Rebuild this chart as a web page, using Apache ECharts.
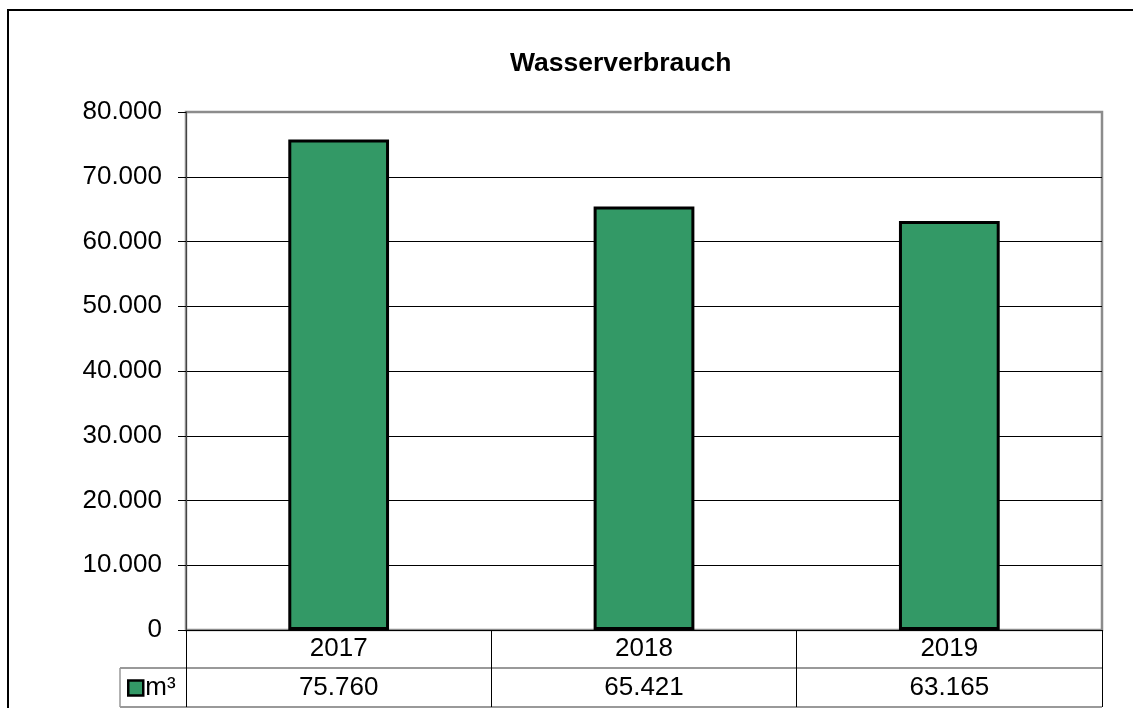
<!DOCTYPE html>
<html>
<head>
<meta charset="utf-8">
<script src="https://cdn.jsdelivr.net/npm/echarts@6/dist/echarts.min.js"></script>
<style>
  html, body { margin: 0; padding: 0; background: #fff; }
  #chart { width: 1133px; height: 708px; }
</style>
</head>
<body>
<div id="chart"></div>
<script>
// Daten
var years = ["2017", "2018", "2019"];
var waterM3 = [75760, 65421, 63165];
var seriesName = "m³";

// Tausenderpunkt wie im Original
function fmt(v) {
  return String(v).replace(/\B(?=(\d{3})+(?!\d))/g, ".");
}

var font = "'Liberation Sans', Arial, sans-serif";
var chart = echarts.init(document.getElementById("chart"));

var option = {
  backgroundColor: "#fff",
  animation: false,
  title: {
    text: "Wasserverbrauch",
    left: 510,
    top: 50,
    padding: 0,
    textStyle: { fontFamily: font, fontSize: 26.5, fontWeight: "bold", color: "#000" }
  },
  legend: {
    data: [seriesName],
    left: 127,
    top: 675,
    padding: 0,
    icon: "rect",
    itemWidth: 15,
    itemHeight: 15,
    selectedMode: false,
    itemStyle: { borderColor: "#000", borderWidth: 2.5 },
    textStyle: { fontFamily: font, fontSize: 26, color: "#000", padding: [0, 0, 0, -3] }
  },
  grid: {
    left: 186,
    right: 31,
    top: 112,
    bottom: 78,
    show: true,
    borderColor: "#8c8c8c",
    borderWidth: 2.5
  },
  xAxis: [
    {
      type: "category",
      data: years,
      position: "bottom",
      axisLine: { lineStyle: { color: "#000", width: 1 } },
      axisTick: { show: true, length: 77, lineStyle: { color: "#000", width: 1 } },
      axisLabel: { fontFamily: font, fontSize: 26, color: "#000", margin: 0, lineHeight: 38 }
    },
    {
      type: "category",
      data: waterM3.map(fmt),
      position: "bottom",
      offset: 38,
      axisLine: { show: true, lineStyle: { color: "#999", width: 2 } },
      axisTick: { show: false },
      axisLabel: { fontFamily: font, fontSize: 26, color: "#000", margin: 0, lineHeight: 39 }
    }
  ],
  yAxis: {
    type: "value",
    min: 0,
    max: 80000,
    interval: 10000,
    axisLine: { show: true, lineStyle: { color: "#444", width: 1 } },
    axisTick: { show: true, length: 8, lineStyle: { color: "#000" } },
    splitLine: { showMaxLine: false, lineStyle: { color: "#000", width: 1 } },
    axisLabel: {
      fontFamily: font,
      fontSize: 26,
      color: "#000",
      margin: 24,
      formatter: function (v) { return fmt(v); }
    }
  },
  series: [
    {
      name: seriesName,
      type: "bar",
      data: waterM3,
      barWidth: "33%",
      itemStyle: { color: "#339966", borderColor: "#000", borderWidth: 3 }
    }
  ],
  graphic: [
    // Rahmen des Diagramms
    { type: "rect", shape: { x: 8, y: 10, width: 1200, height: 800 },
      style: { fill: "none", stroke: "#000", lineWidth: 2 }, silent: true },
    // Datentabelle: Kopfzelle und untere Linie
    { type: "line", shape: { x1: 120, y1: 668, x2: 186, y2: 668 },
      style: { stroke: "#999", lineWidth: 2 }, silent: true },
    { type: "line", shape: { x1: 120, y1: 707, x2: 1102, y2: 707 },
      style: { stroke: "#999", lineWidth: 2 }, silent: true },
    { type: "line", shape: { x1: 120, y1: 668, x2: 120, y2: 707 },
      style: { stroke: "#999", lineWidth: 1.5 }, silent: true }
  ]
};

chart.setOption(option);
</script>
</body>
</html>
